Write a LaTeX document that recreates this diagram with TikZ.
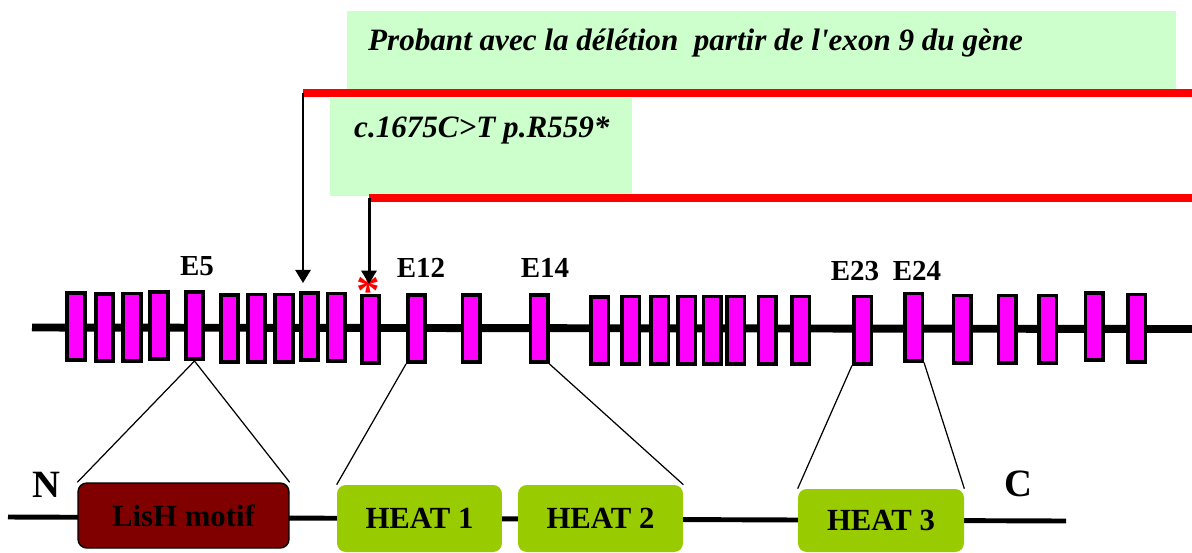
\documentclass[tikz,border=0pt]{standalone}
\usepackage{fontspec}
\setmainfont{Liberation Serif}
\usetikzlibrary{arrows.meta,positioning,calc}
\definecolor{exonmag}{RGB}{255,0,255}
\definecolor{notegreen}{RGB}{204,255,204}
\definecolor{lishred}{RGB}{128,0,0}
\definecolor{heatgreen}{RGB}{153,204,0}
\definecolor{barred}{RGB}{255,0,0}

\begin{document}
\begin{tikzpicture}[x=0.02cm, y=-0.02cm,
  exon/.style={draw, line width=2pt, fill=exonmag, minimum width=0.35cm, minimum height=1.35cm, inner sep=0pt},
  elabel/.style={font=\fontsize{16.5}{18}\selectfont\bfseries},
  note/.style={fill=notegreen, inner sep=0pt, anchor=north west},
  notetext/.style={anchor=base west, font=\fontsize{17.7}{20}\selectfont\bfseries\itshape},
  redbar/.style={barred, line width=4.2pt},
  pointer/.style={line width=1.7pt, shorten >=4.5pt, -{Triangle[width=8.5pt,length=7.5pt]}},
  protbox/.style={rounded corners=5pt, inner sep=0pt, font=\fontsize{17.5}{20}\selectfont\bfseries},
  zoomline/.style={line width=0.7pt}]
  \useasboundingbox (0,0) rectangle (1192,552);

  % variant boxes
  \node[note, minimum width=16.58cm, minimum height=1.56cm] (delbox) at (347,11) {};
  \node[notetext] (deltext) at (362,50) {Probant avec la délétion \ partir de l\textquotesingle exon 9 du gène};
  \node[note, minimum width=6.04cm, minimum height=1.96cm] (mutbox) at (330,98) {};
  \node[notetext] (muttext) at (348,137) {c.1675C>T p.R559*};
  \coordinate (del) at (303,93);
  \coordinate (delend) at (1192,93);
  \coordinate (mut) at (369,198);
  \coordinate (mutend) at (1192,198);
  \draw[redbar] (del) -- (delend);
  \draw[redbar] (mut) -- (mutend);

  % gene with exons
  \coordinate (gstart) at (32,327.5);
  \coordinate (gend) at (1192,329);
  \draw[line width=4.5pt] (gstart) -- (gend);
  \foreach \i/\x/\y in {1/76/326.5,2/104.5/327.5,3/132/327,4/159/325.5,5/194.5/325.5,
      6/229.5/328.5,7/256.5/328,8/284/328,9/309.5/326.5,10/336/327,11/370.5/329,
      12/416.5/328.5,13/471/328.5,14/539/328.5,15/599.5/330.5,16/630.5/330,17/659.5/330,
      18/686.5/330,19/712/330,20/735.5/330,21/767/330,22/800.5/330,23/862.5/330,
      24/913.5/327,25/962/329,26/1007/329,27/1047.5/329,28/1094/326.5,29/1136.5/328} {
    \node[exon] (e\i) at (\x,\y) {};
  }
  \node[elabel] (l5) at (197,266) {E5};
  \node[elabel] (l12) at (421,268) {E12};
  \node[elabel] (l14) at (545,268) {E14};
  \node[elabel] (l23) at (855,271) {E23};
  \node[elabel] (l24) at (917,271) {E24};

  % deletion and nonsense arrows
  \node[barred, font=\fontsize{27}{28}\selectfont\bfseries] (stop) at (368,291) {*};
  \draw[pointer] (del) -- (del |- e9.north);
  \draw[pointer, shorten >=5.5pt] (mut) -- (mut |- e11.north);

  % protein domains
  \coordinate (nterm) at (8,517);
  \coordinate (cterm) at (1066,521);
  \draw[line width=2.8pt] (nterm) -- (cterm);
  \node[protbox, draw=black, line width=0.8pt, fill=lishred, minimum width=4.22cm, minimum height=1.3cm] (lish) at (183.5,515.5) {LisH motif};
  \node[protbox, fill=heatgreen, minimum width=3.3cm, minimum height=1.34cm] (heat1) at (419.5,518.5) {HEAT 1};
  \node[protbox, fill=heatgreen, minimum width=3.3cm, minimum height=1.34cm] (heat2) at (600.5,518.5) {HEAT 2};
  \node[protbox, fill=heatgreen, minimum width=3.32cm, minimum height=1.26cm] (heat3) at (881,520.5) {HEAT 3};
  \node[font=\fontsize{22}{24}\selectfont\bfseries] (nlab) at (46,485) {N};
  \node[font=\fontsize{22}{24}\selectfont\bfseries] (clab) at (1018,484) {C};

  % exon to domain links
  \draw[zoomline] (e5.south) -- (lish.north west);
  \draw[zoomline] (e5.south) -- (lish.north east);
  \draw[zoomline] (e12.south west) -- (heat1.north west);
  \draw[zoomline] (e14.south east) -- (heat2.north east);
  \draw[zoomline] (e23.south west) -- (heat3.north west);
  \draw[zoomline] (e24.south east) -- (heat3.north east);
\end{tikzpicture}
\end{document}
